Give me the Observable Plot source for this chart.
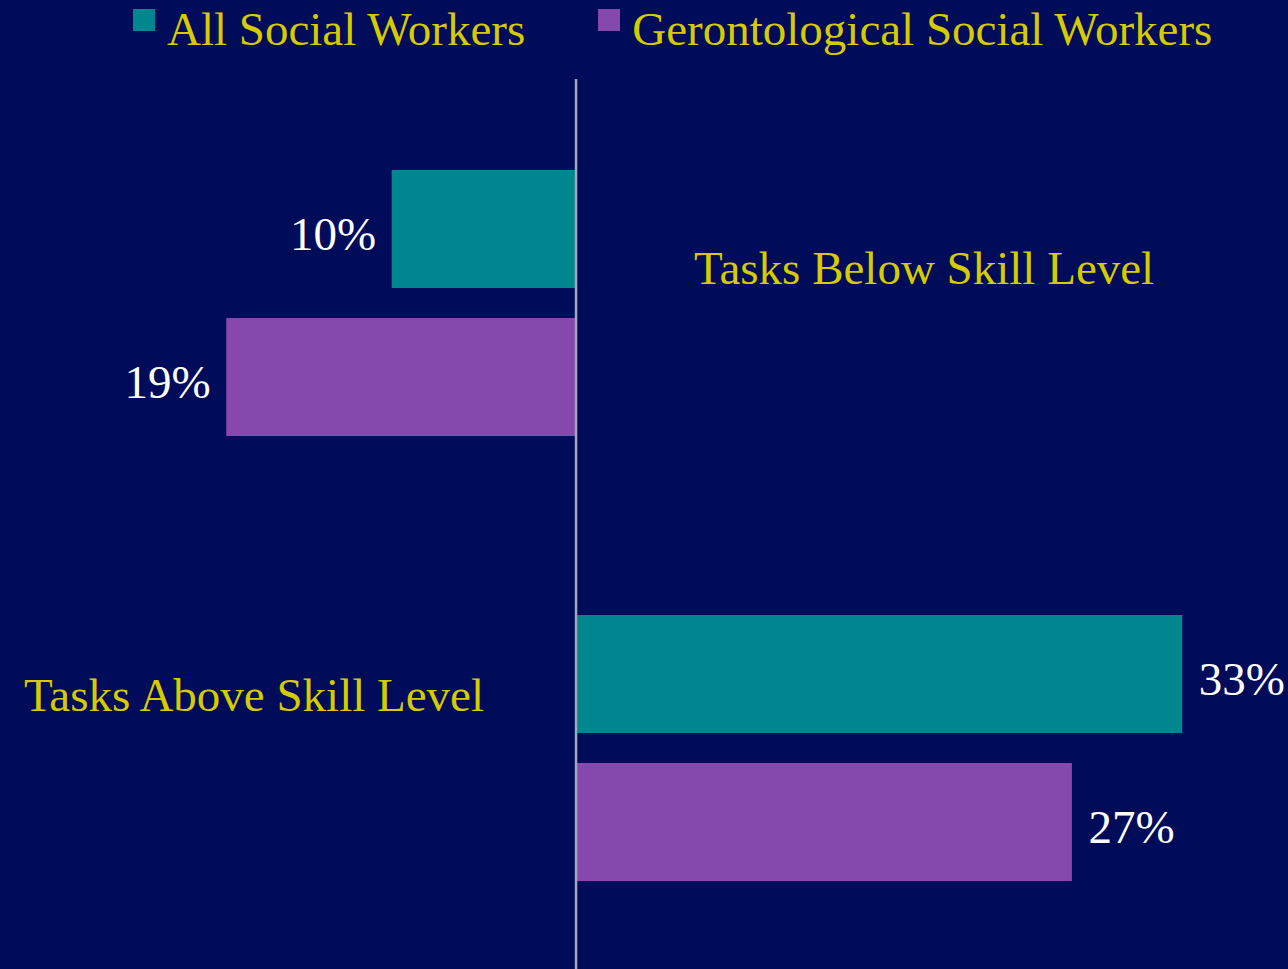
<!DOCTYPE html>
<html>
<head>
<meta charset="utf-8">
<script src="https://cdn.jsdelivr.net/npm/d3@7"></script>
<script src="https://cdn.jsdelivr.net/npm/@observablehq/plot@0.6"></script>
<style>
  html, body { margin: 0; padding: 0; background: #000B5A; overflow: hidden; }
  body { width: 1288px; height: 969px; font-family: "Liberation Serif"; }
  #legend, #legend *, #chart svg, #chart svg text { font-family: "Liberation Serif" !important; }
  #legend { position: relative; height: 79px; display: flex; align-items: flex-start; padding-left: 133px; padding-top: 2px; box-sizing: border-box; }
  .item { display: flex; align-items: flex-start; }
  .item .sw { width: 22px; height: 22px; margin-top: 7px; }
  .item .lb { color: #D6CB00; font-size: 47px; line-height: normal; margin-left: 12px; white-space: nowrap; }
  #chart svg { display: block; }
</style>
</head>
<body>
<div id="legend"></div>
<div id="chart"></div>
<script>
// ---- data ----
const categories = ["Tasks Below Skill Level", "Tasks Above Skill Level"];
const series = ["All Social Workers", "Gerontological Social Workers"];
// signed percentages: below-skill shown to the left of zero
const allSocialWorkers = [-10, 33];
const gerontologicalSocialWorkers = [-19, 27];
const seriesColors = ["#00868F", "#8549AD"];

const seriesValues = [allSocialWorkers, gerontologicalSocialWorkers];
const data = [];
categories.forEach((c, i) => {
  series.forEach((s, j) => {
    data.push({category: c, series: s, value: seriesValues[j][i]});
  });
});
const catData = categories.map((c, i) => ({category: c, negative: allSocialWorkers[i] < 0}));

const serif = "Liberation Serif";

// ---- legend ----
const legend = document.getElementById("legend");
series.forEach((s, j) => {
  const item = document.createElement("div");
  item.className = "item";
  if (j < series.length - 1) item.style.marginRight = "73px";
  const sw = document.createElement("div");
  sw.className = "sw";
  sw.style.background = seriesColors[j];
  const lb = document.createElement("div");
  lb.className = "lb";
  lb.textContent = s;
  item.appendChild(sw);
  item.appendChild(lb);
  legend.appendChild(item);
});

// ---- chart ----
const chart = Plot.plot({
  width: 1288,
  height: 890,
  marginTop: 0,
  marginBottom: 0,
  marginLeft: 24,
  marginRight: 69,
  style: {background: "transparent", fontFamily: serif, overflow: "visible"},
  x: {domain: [-30, 35], axis: null},
  y: {domain: series, paddingInner: 0.2, paddingOuter: 0.6, align: 0.51, axis: null},
  fy: {domain: categories, padding: 0, axis: null},
  color: {domain: series, range: seriesColors},
  marks: [
    Plot.barX(data, {x: "value", y: "series", fy: "category", fill: "series"}),
    Plot.ruleX([0], {stroke: "#A3A6B8", strokeWidth: 2.5}),
    Plot.text(data.filter(d => d.value < 0), {
      x: "value", y: "series", fy: "category",
      text: d => Math.abs(d.value) + "%",
      textAnchor: "end", lineAnchor: "bottom", dx: -16, dy: 20,
      fill: "white", fontSize: 47, fontFamily: serif
    }),
    Plot.text(data.filter(d => d.value >= 0), {
      x: "value", y: "series", fy: "category",
      text: d => Math.abs(d.value) + "%",
      textAnchor: "start", lineAnchor: "bottom", dx: 16, dy: 20,
      fill: "white", fontSize: 47, fontFamily: serif
    }),
    Plot.text(catData.filter(d => d.negative), {
      x: () => 0, y: () => series[0], fy: "category",
      text: "category",
      textAnchor: "start", lineAnchor: "bottom", dx: 118, dy: 54,
      fill: "#D6CB00", fontSize: 47, fontFamily: serif
    }),
    Plot.text(catData.filter(d => !d.negative), {
      x: () => 0, y: () => series[0], fy: "category",
      text: "category",
      textAnchor: "end", lineAnchor: "bottom", dx: -92, dy: 36,
      fill: "#D6CB00", fontSize: 47, fontFamily: serif
    })
  ]
});
document.getElementById("chart").appendChild(chart);
</script>
</body>
</html>
